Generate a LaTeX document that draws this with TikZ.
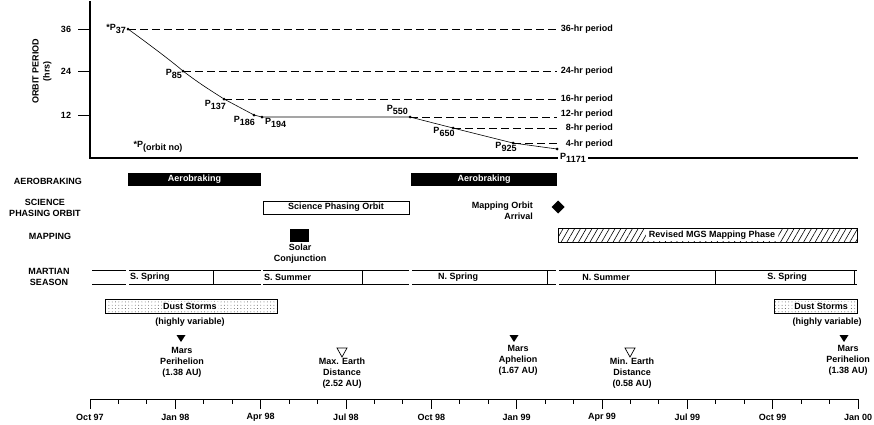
\documentclass[tikz,border=0pt]{standalone}
\usepackage{fontspec}
\setmainfont{Liberation Sans}
\usetikzlibrary{patterns,patterns.meta}
\newcommand\sbs[1]{\raisebox{-2.8pt}{#1}}
\begin{document}
\begin{tikzpicture}[x=1pt,y=-1pt,
  every node/.style={font=\bfseries\fontsize{9}{11}\selectfont, inner sep=0pt},
  thin line/.style={line width=0.8pt},
  period/.style={line width=0.8pt, dash pattern=on 8pt off 4pt},
  curve/.style={line width=0.6pt},
  dotpt/.style={circle, fill=black, minimum size=3pt, inner sep=0pt},
  blackbar/.style={fill=black},
  whitetext/.style={text=white},
  boxed/.style={draw, line width=0.8pt},
  seas/.style={line width=0.8pt},
  mark label/.style={align=center, anchor=north},
  filltri/.style={fill=black},
  opentri/.style={draw, line width=0.7pt}
]
\useasboundingbox (0,0) rectangle (874,424);

% ---------- top chart ----------
\draw[line width=2pt] (90,1) -- (90,158) -- (858,158);
\foreach \yy/\lab in {29/36,71/24,115/12}{
  \draw[thin line] (78,\yy) -- (90,\yy);
  \node (t\lab) at (66,\yy) {\lab};
}
\node[rotate=90, align=center] (ylab) at (42,71) {ORBIT PERIOD\\(hrs)};

\coordinate (p37) at (128,29);
\coordinate (p85) at (183,71);
\coordinate (p137) at (224,99);
\coordinate (p186) at (254,115);
\coordinate (p194) at (262,117);
\coordinate (p550) at (410,117);
\coordinate (p650) at (453,128);
\coordinate (p925) at (513,143);
\coordinate (p1171) at (557,149);

\coordinate (e36) at (557,29);
\coordinate (e24) at (557,71);
\coordinate (e16) at (557,99);
\coordinate (e12) at (557,117);
\coordinate (e8) at (557,128);
\coordinate (e4) at (557,143);

\draw[period] (p37) -- (e36);
\draw[period] (p85) -- (e24);
\draw[period] (p137) -- (e16);
\draw[period] (p550) -- (e12);
\draw[period] (p650) -- (e8);
\draw[period] (p925) -- (e4);

\draw[curve] (p37) .. controls (150,45) and (170,60) .. (p85)
  .. controls (200,84) and (210,90) .. (p137) -- (p186) -- (p194) -- (p550) -- (p650) -- (p925) -- (p1171);
\foreach \p in {p37,p85,p137,p186,p194,p550,p650,p925,p1171}
  \node[dotpt] at (\p) {};

\node[anchor=east] (l36) at (613,29) {36-hr period};
\node[anchor=east] (l24) at (613,71) {24-hr period};
\node[anchor=east] (l16) at (613,99) {16-hr period};
\node[anchor=east] (l12) at (613,114) {12-hr period};
\node[anchor=east] (l8) at (613,128) {8-hr period};
\node[anchor=east] (l4) at (613,144) {4-hr period};

\node[anchor=east] (n37) at (126,29) {*P\sbs{37}};
\node[anchor=east] (n85) at (182,74) {P\sbs{85}};
\node[anchor=east] (n137) at (226,105) {P\sbs{137}};
\node[anchor=east] (n186) at (255,121) {P\sbs{186}};
\node[anchor=west] (n194) at (265,123) {P\sbs{194}};
\node[anchor=east] (n550) at (408,110) {P\sbs{550}};
\node (n650) at (444,132) {P\sbs{650}};
\node (n925) at (506,147) {P\sbs{925}};
\node[fill=white, inner xsep=2pt, inner ysep=1pt] (n1171) at (573,158) {P\sbs{1171}};
\node (norb) at (158,147) {*P\sbs{(orbit no)}};

% ---------- rows ----------
\node (rAero) at (48,181) {AEROBRAKING};
\node[align=center] (rSci) at (45,208) {SCIENCE\\PHASING ORBIT};
\node (rMap) at (50,236) {MAPPING};
\node[align=center] (rSea) at (49,277) {MARTIAN\\SEASON};

\fill[blackbar] (128,173) rectangle (261,186);
\node[whitetext] (ab1) at (194.5,179.5) {Aerobraking};
\fill[blackbar] (411,173) rectangle (557,186);
\node[whitetext] (ab2) at (484,179.5) {Aerobraking};

\draw[boxed] (263,201) rectangle (409,214);
\node (spo) at (336,207.5) {Science Phasing Orbit};

\node[anchor=east, align=right] (moa) at (533,211) {Mapping Orbit\\Arrival};
\fill (558,200.5) -- (564.5,207) -- (558,213.5) -- (551.5,207) -- cycle;

\fill[blackbar] (290,229) rectangle (309,242);
\node[align=center] (solar) at (300,253.5) {Solar\\Conjunction};

\draw[boxed, pattern={Lines[angle=60,distance=5pt,line width=0.6pt]}] (558,228) rectangle (857,242);
\node[fill=white, inner xsep=3pt, inner ysep=2pt] (mgs) at (712,235) {Revised MGS Mapping Phase};

% seasons
\foreach \a/\b in {92/126,129/261,263/409,412/556,559/857}{
  \draw[seas] (\a,270) -- (\b,270);
  \draw[seas] (\a,284) -- (\b,284);
}
\foreach \xx in {213,362,547,715,854}
  \draw[seas] (\xx,270) -- (\xx,284);
\node[anchor=west] (s1) at (130,277) {S. Spring};
\node[anchor=west] (s2) at (264,277) {S. Summer};
\node[anchor=west] (s3) at (438,277) {N. Spring};
\node (s4) at (606,277) {N. Summer};
\node (s5) at (787,277) {S. Spring};

% dust storms
\draw[boxed, pattern={Dots[radius=0.45pt,distance=3.3pt]}, pattern color=black!70] (105,299) rectangle (277,313);
\node[fill=white, inner xsep=1.5pt, inner ysep=1pt] (ds1) at (190,306) {Dust Storms};
\node (hv1) at (190,322) {(highly variable)};
\draw[boxed, pattern={Dots[radius=0.45pt,distance=3.3pt]}, pattern color=black!70] (774,299) rectangle (857,313);
\node[fill=white, inner xsep=1.5pt, inner ysep=1pt] (ds2) at (821,306) {Dust Storms};
\node (hv2) at (827,322) {(highly variable)};

% markers
\fill[filltri] (176.5,335) -- (185.5,335) -- (181,342) -- cycle;
\node[mark label] (m1) at (182,347) {Mars\\Perihelion\\(1.38 AU)};
\draw[opentri] (337,348) -- (347,348) -- (342,357) -- cycle;
\node[mark label] (m2) at (342,358) {Max. Earth\\Distance\\(2.52 AU)};
\fill[filltri] (509.5,335) -- (518.5,335) -- (514,342) -- cycle;
\node[mark label] (m3) at (518,345) {Mars\\Aphelion\\(1.67 AU)};
\draw[opentri] (625,348) -- (635,348) -- (630,357) -- cycle;
\node[mark label] (m4) at (632,358) {Min. Earth\\Distance\\(0.58 AU)};
\fill[filltri] (839.5,335) -- (848.5,335) -- (844,342) -- cycle;
\node[mark label] (m5) at (848,345) {Mars\\Perihelion\\(1.38 AU)};

% ---------- time axis ----------
\draw[thin line] (90,399) -- (858,399);
\foreach \m in {0,...,27}{
  \pgfmathsetmacro{\xx}{90+28.444*\m}
  \pgfmathtruncatemacro{\r}{mod(\m,3)}
  \ifnum\r=0
    \draw[thin line] (\xx,399) -- (\xx,409);
  \else
    \draw[thin line] (\xx,399) -- (\xx,404);
  \fi
}
\foreach \i/\lab in {0/Oct 97,1/Jan 98,2/Apr 98,3/Jul 98,4/Oct 98,5/Jan 99,6/Apr 99,7/Jul 99,8/Oct 99,9/Jan 00}{
  \pgfmathsetmacro{\xx}{90+85.333*\i}
  \node (ax\i) at (\xx,417) {\lab};
}
\end{tikzpicture}
\end{document}
